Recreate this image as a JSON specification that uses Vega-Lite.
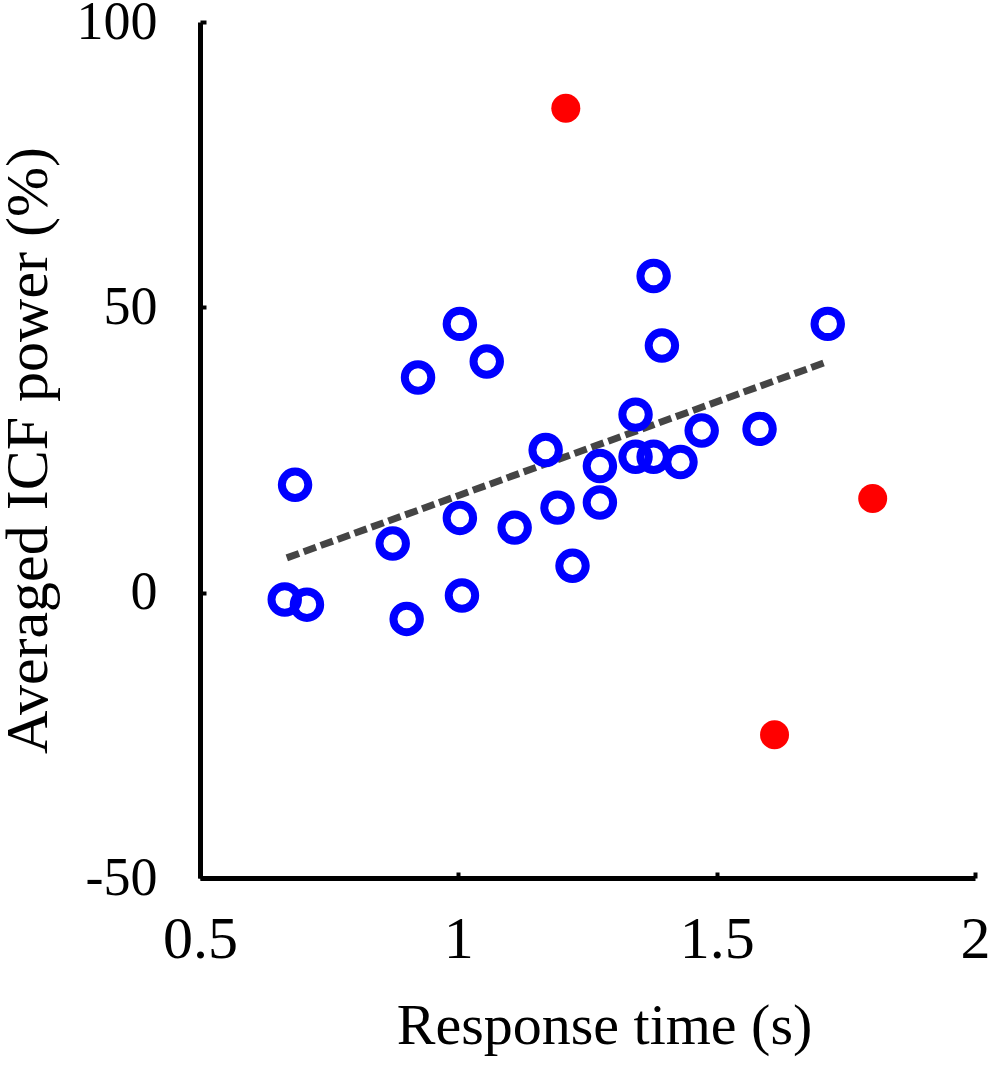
{
  "$schema": "https://vega.github.io/schema/vega-lite/v6.json",
  "width": 775,
  "height": 856,
  "autosize": {"type": "none"},
  "padding": {"left": 200, "top": 22, "right": 25, "bottom": 193},
  "background": "white",
  "config": {
    "view": {"stroke": null},
    "axis": {
      "grid": false,
      "domainColor": "black",
      "domainWidth": 5,
      "tickColor": "black",
      "tickWidth": 4,
      "labelFont": "Liberation Serif",
      "labelColor": "black",
      "labelFlush": false,
      "titleFont": "Liberation Serif",
      "titleFontWeight": "normal",
      "titleColor": "black"
    }
  },
  "datasets": {
    "normal": [
      {"rt": 0.664, "power": -1.2},
      {"rt": 0.707, "power": -2.1},
      {"rt": 0.684, "power": 18.9},
      {"rt": 0.873, "power": 8.6},
      {"rt": 0.900, "power": -4.6},
      {"rt": 0.922, "power": 37.7},
      {"rt": 1.003, "power": 47.1},
      {"rt": 1.003, "power": 13.1},
      {"rt": 1.007, "power": -0.5},
      {"rt": 1.055, "power": 40.5},
      {"rt": 1.109, "power": 11.4},
      {"rt": 1.169, "power": 25.0},
      {"rt": 1.192, "power": 14.9},
      {"rt": 1.221, "power": 4.7},
      {"rt": 1.274, "power": 22.2},
      {"rt": 1.274, "power": 15.8},
      {"rt": 1.343, "power": 31.2},
      {"rt": 1.343, "power": 23.8},
      {"rt": 1.378, "power": 23.8},
      {"rt": 1.378, "power": 55.5},
      {"rt": 1.394, "power": 43.3},
      {"rt": 1.430, "power": 22.9},
      {"rt": 1.471, "power": 28.4},
      {"rt": 1.583, "power": 28.7},
      {"rt": 1.715, "power": 47.1}
    ],
    "outliers": [
      {"rt": 1.208, "power": 84.9},
      {"rt": 1.802, "power": 16.5},
      {"rt": 1.612, "power": -24.9}
    ],
    "fit": [
      {"rt": 0.668, "power": 6.1},
      {"rt": 1.715, "power": 40.5}
    ]
  },
  "encoding": {
    "x": {
      "field": "rt",
      "type": "quantitative",
      "scale": {"domain": [0.5, 2], "nice": false, "zero": false},
      "axis": {
        "title": "Response time (s)",
        "values": [0.5, 1, 1.5, 2],
        "labelExpr": "'' + datum.value",
        "labelFontSize": 60,
        "titleFontSize": 58,
        "tickSize": -6,
        "labelPadding": 38,
        "titlePadding": 28,
        "titleX": 404
      }
    },
    "y": {
      "field": "power",
      "type": "quantitative",
      "scale": {"domain": [-50, 100], "nice": false, "zero": false},
      "axis": {
        "title": "Averaged ICF power (%)",
        "values": [-50, 0, 50, 100],
        "labelExpr": "'' + datum.value",
        "labelFontSize": 54,
        "titleFontSize": 60,
        "tickSize": -6,
        "labelPadding": 49,
        "titlePadding": 17
      }
    }
  },
  "layer": [
    {
      "data": {"name": "fit"},
      "mark": {"type": "line", "color": "#454545", "strokeWidth": 7, "strokeDash": [13, 5]}
    },
    {
      "data": {"name": "normal"},
      "mark": {"type": "point", "shape": "circle", "filled": false, "color": "#0000ff", "size": 700, "strokeWidth": 8, "opacity": 1}
    },
    {
      "data": {"name": "outliers"},
      "mark": {"type": "circle", "color": "#ff0000", "size": 840, "opacity": 1}
    }
  ]
}
